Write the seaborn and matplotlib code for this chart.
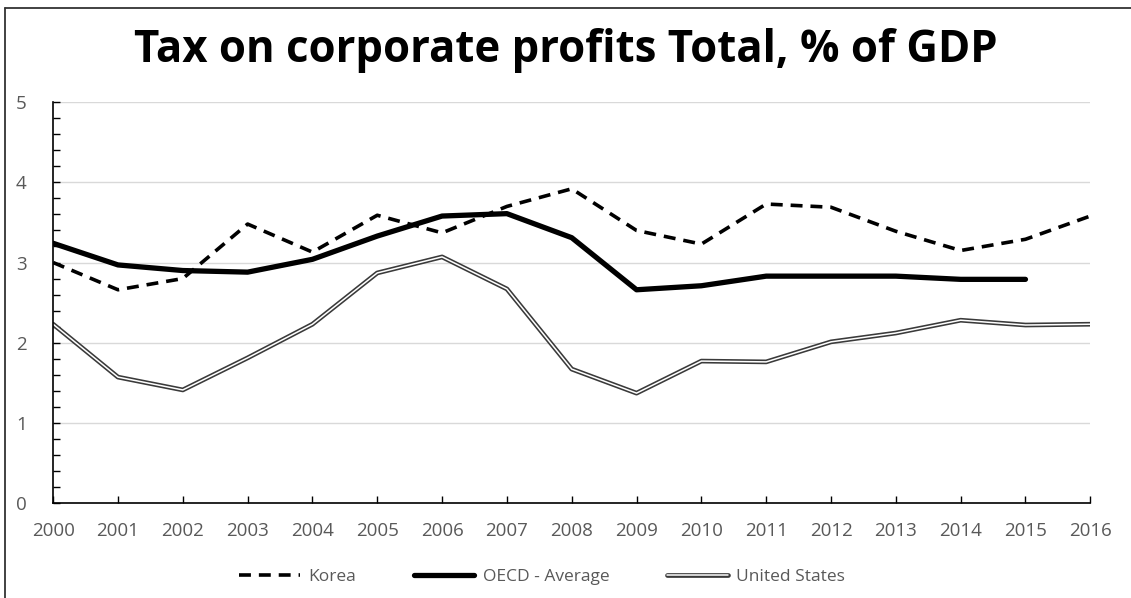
import matplotlib
matplotlib.use("Agg")
import matplotlib.pyplot as plt
import matplotlib.patheffects as pe
from matplotlib.lines import Line2D
from matplotlib.ticker import MultipleLocator
import numpy as np
import pandas as pd
import seaborn as sns

# Corporate profit tax revenue, % of GDP
years = list(range(2000, 2017))
korea = [3.00, 2.66, 2.80, 3.48, 3.13, 3.59, 3.37, 3.70, 3.92, 3.40, 3.23, 3.73, 3.69, 3.39, 3.15, 3.29, 3.58]
oecd = [3.24, 2.97, 2.90, 2.88, 3.04, 3.33, 3.58, 3.61, 3.31, 2.66, 2.71, 2.83, 2.83, 2.83, 2.79, 2.79, np.nan]
usa = [2.23, 1.57, 1.41, 1.81, 2.23, 2.87, 3.07, 2.67, 1.67, 1.37, 1.77, 1.76, 2.01, 2.12, 2.28, 2.22, 2.23]

series_names = ["Korea", "OECD - Average", "United States"]
title = "Tax on corporate profits Total, % of GDP"

df = pd.DataFrame({"year": years, series_names[0]: korea,
                   series_names[1]: oecd, series_names[2]: usa})

sns.set_theme(style="white")
plt.rcParams["font.family"] = ["Open Sans", "DejaVu Sans"]

fig = plt.figure(figsize=(11.31, 5.98), dpi=100)
ax = fig.add_axes([0.047, 0.159, 0.917, 0.670])

tick_gray = "#595959"

# Korea: dashed
sns.lineplot(data=df, x="year", y=series_names[0], ax=ax, color="black",
             linewidth=2.6, label=series_names[0])
ax.lines[-1].set_dashes((3.3, 2.2))
ax.lines[-1].set_solid_capstyle("butt")
# OECD average: heavy solid
sns.lineplot(data=df.dropna(subset=[series_names[1]]), x="year", y=series_names[1],
             ax=ax, color="black", linewidth=3.8, label=series_names[1])
ax.lines[-1].set_solid_capstyle("round")
# United States: double (outlined) line
sns.lineplot(data=df, x="year", y=series_names[2], ax=ax, color="white",
             linewidth=1.1, label=series_names[2])
ax.lines[-1].set_path_effects([pe.Stroke(linewidth=3.4, foreground="#3a3a3a"), pe.Normal()])

ax.set_xlim(2000, 2016)
ax.set_ylim(0, 5)
ax.set_xticks(years)
ax.set_xticklabels([str(y) for y in years])
ax.yaxis.set_major_locator(MultipleLocator(1))
ax.yaxis.set_minor_locator(MultipleLocator(0.2))
ax.set_xlabel("")
ax.set_ylabel("")

ax.grid(axis="y", which="major", color="#d9d9d9", linewidth=1.0)
ax.set_axisbelow(True)
for side in ["top", "right"]:
    ax.spines[side].set_visible(False)
for side in ["left", "bottom"]:
    ax.spines[side].set_color("black")
    ax.spines[side].set_linewidth(1.2)

ax.tick_params(axis="y", which="major", direction="in", left=True, length=5, width=1,
               color="black", pad=19, labelsize=13.5, labelcolor=tick_gray)
ax.tick_params(axis="y", which="minor", direction="in", length=5, width=1,
               color="black", left=True)
ax.tick_params(axis="x", direction="in", length=5, width=1, color="black",
               bottom=True, labelsize=13.5, labelcolor=tick_gray, pad=14)

fig.text(0.5, 0.916, title, ha="center", va="center", fontsize=31.5,
         fontweight="bold", color="black")

leg = ax.legend(loc="center", bbox_to_anchor=(0.4716, -0.185), ncol=3, frameon=False,
                fontsize=12.5, handlelength=3.5, columnspacing=3.3, handletextpad=0.5)
for t in leg.get_texts():
    t.set_color(tick_gray)

# frame edges on the left and top of the figure
fig.add_artist(Line2D([5 / 1131, 5 / 1131], [0, 1 - 8 / 598], transform=fig.transFigure,
                      color="#333333", linewidth=1.3))
fig.add_artist(Line2D([5 / 1131, 1], [1 - 8 / 598, 1 - 8 / 598], transform=fig.transFigure,
                      color="#333333", linewidth=1.3))

fig.savefig("out.png", dpi=100)
